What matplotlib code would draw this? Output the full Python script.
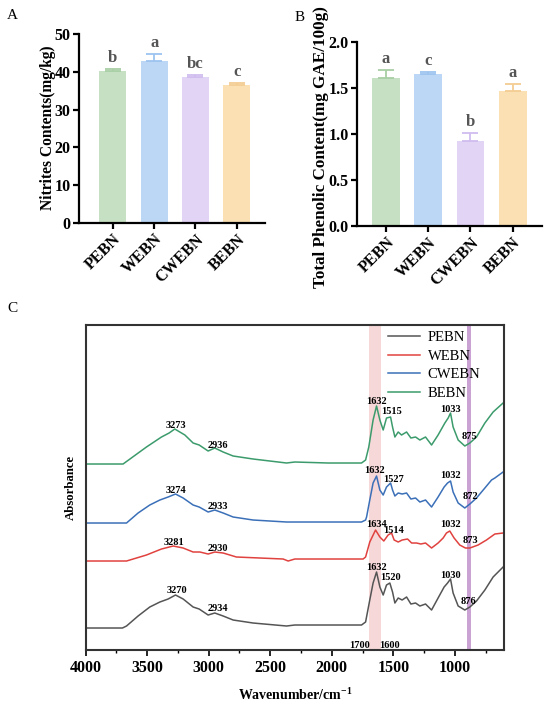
import matplotlib
matplotlib.use("Agg")
import matplotlib.pyplot as plt
from matplotlib.ticker import MultipleLocator

plt.rcParams['font.family'] = ['Liberation Serif', 'DejaVu Serif']
plt.rcParams['mathtext.default'] = 'regular'

# ---- panel A / B data
groups = ["PEBN", "WEBN", "CWEBN", "BEBN"]
nitrite = [40.1, 42.9, 38.5, 36.6]
nitrite_err = [0.6, 1.8, 0.7, 0.5]
nitrite_sig = ["b", "a", "bc", "c"]
phenolic = [1.61, 1.65, 0.93, 1.47]
phenolic_err = [0.09, 0.03, 0.08, 0.08]
phenolic_sig = ["a", "c", "b", "a"]

bar_colors = ["#c6e0c4", "#bbd7f5", "#e2d4f5", "#fae0b2"]
err_colors = ["#a8cfa5", "#9cc4ef", "#d0bcef", "#f3cd92"]

# ---- panel C data (wavenumber, absorbance incl. stacking offset)
wn_pebn = [4000, 3700, 3667, 3573, 3478, 3396, 3329, 3269, 3207, 3126, 3077, 3004, 2950, 2882, 2801, 2639,
           2367, 2300, 2000, 1758, 1725, 1691, 1664, 1636, 1609, 1582, 1555, 1528, 1506, 1487, 1460, 1428,
           1392, 1357, 1319, 1284, 1238, 1189, 1136, 1087, 1059, 1035, 1014, 973, 919, 878, 824, 756, 689, 608]
ab_pebn = [0.22, 0.22, 0.24, 0.34, 0.43, 0.48, 0.51, 0.55, 0.51, 0.43, 0.41, 0.35, 0.37, 0.34, 0.30, 0.27,
           0.24, 0.25, 0.25, 0.25, 0.28, 0.50, 0.67, 0.78, 0.63, 0.55, 0.65, 0.67, 0.58, 0.47, 0.52, 0.50,
           0.53, 0.46, 0.47, 0.44, 0.46, 0.40, 0.52, 0.63, 0.67, 0.71, 0.57, 0.44, 0.40, 0.43, 0.49, 0.60, 0.73, 0.83]

wn_webn = [4000, 3667, 3640, 3505, 3383, 3288, 3207, 3126, 3071, 3004, 2950, 2882, 2774, 2584, 2395, 2354,
           2300, 2000, 1745, 1725, 1691, 1644, 1609, 1577, 1542, 1514, 1493, 1460, 1428, 1384, 1351, 1311,
           1276, 1238, 1189, 1136, 1095, 1068, 1041, 1006, 960, 914, 878, 811, 743, 675, 608]
ab_webn = [0.89, 0.89, 0.90, 0.95, 1.01, 1.04, 1.02, 0.98, 0.98, 0.96, 0.98, 0.97, 0.93, 0.92, 0.91, 0.89,
           0.91, 0.91, 0.91, 0.93, 1.08, 1.20, 1.13, 1.09, 1.15, 1.17, 1.10, 1.08, 1.10, 1.11, 1.07, 1.07,
           1.06, 1.07, 1.02, 1.07, 1.12, 1.17, 1.19, 1.12, 1.05, 1.02, 1.02, 1.05, 1.10, 1.16, 1.17]

wn_cwebn = [4000, 3700, 3667, 3573, 3478, 3396, 3329, 3269, 3207, 3126, 3077, 3004, 2950, 2882, 2801, 2639,
            2367, 2300, 2000, 1758, 1725, 1717, 1691, 1664, 1636, 1609, 1582, 1555, 1522, 1506, 1487, 1460,
            1428, 1392, 1357, 1319, 1284, 1238, 1189, 1136, 1087, 1059, 1035, 1014, 973, 919, 878, 824, 756,
            702, 675, 608]
ab_cwebn = [1.27, 1.27, 1.27, 1.37, 1.45, 1.50, 1.53, 1.56, 1.52, 1.45, 1.43, 1.38, 1.40, 1.37, 1.33, 1.30,
            1.28, 1.28, 1.28, 1.28, 1.30, 1.33, 1.50, 1.67, 1.74, 1.60, 1.55, 1.63, 1.67, 1.60, 1.54, 1.57,
            1.56, 1.57, 1.51, 1.52, 1.48, 1.50, 1.43, 1.53, 1.63, 1.67, 1.69, 1.58, 1.47, 1.42, 1.46, 1.52, 1.62,
            1.70, 1.72, 1.78]

wn_bebn = [4000, 3695, 3505, 3383, 3321, 3275, 3193, 3126, 3077, 3004, 2950, 2882, 2801, 2639, 2367, 2300,
           2029, 1758, 1725, 1699, 1664, 1636, 1609, 1582, 1555, 1522, 1506, 1487, 1460, 1433, 1392, 1357,
           1319, 1284, 1238, 1189, 1136, 1081, 1054, 1035, 1014, 973, 919, 878, 824, 756, 689, 608]
ab_bebn = [1.86, 1.86, 2.03, 2.13, 2.17, 2.21, 2.15, 2.07, 2.05, 1.99, 2.02, 1.98, 1.94, 1.91, 1.87, 1.88,
           1.87, 1.87, 1.90, 2.03, 2.30, 2.44, 2.30, 2.20, 2.32, 2.33, 2.23, 2.13, 2.18, 2.15, 2.18, 2.12,
           2.13, 2.10, 2.13, 2.05, 2.15, 2.27, 2.32, 2.37, 2.23, 2.10, 2.04, 2.07, 2.13, 2.27, 2.38, 2.47]

# peak labels: (text, wavenumber, y)
peaks_pebn = [("3270", 3261, 0.60), ("2934", 2923, 0.42), ("1632", 1636, 0.83), ("1520", 1520, 0.73),
              ("1030", 1035, 0.75), ("876", 886, 0.49)]
peaks_webn = [("3281", 3280, 1.08), ("2930", 2923, 1.02), ("1634", 1636, 1.26), ("1514", 1496, 1.20),
              ("1032", 1035, 1.26), ("873", 873, 1.10)]
peaks_cwebn = [("3274", 3261, 1.60), ("2933", 2923, 1.44), ("1632", 1650, 1.80), ("1527", 1501, 1.71),
               ("1032", 1035, 1.75), ("872", 873, 1.54)]
peaks_bebn = [("3273", 3269, 2.25), ("2936", 2923, 2.05), ("1632", 1636, 2.49), ("1515", 1514, 2.39),
              ("1033", 1035, 2.41), ("875", 878, 2.14)]

line_colors = {"PEBN": "#555555", "WEBN": "#e0423f", "CWEBN": "#3b70b8", "BEBN": "#3c9b6c"}

fig = plt.figure(figsize=(5.5, 7.09), dpi=100)


def bar_panel(ax, vals, errs, sig, ylim, step, ylabel, ylabel_size, label_xy, xlim):
    x = range(len(groups))
    ax.bar(x, vals, width=0.66, color=bar_colors, zorder=2)
    for i in x:
        ax.errorbar(i, vals[i], yerr=[[0], [errs[i]]], color=err_colors[i], capsize=5.5,
                    elinewidth=1.3, capthick=1.3, zorder=3)
        ax.annotate(sig[i], (i, vals[i] + errs[i]), xytext=(0, 2), textcoords="offset points",
                    ha="center", va="bottom", fontsize=12, fontweight="bold", color="#555555")
    ax.set_ylim(*ylim)
    ax.set_xlim(*xlim)
    ax.yaxis.set_major_locator(MultipleLocator(step))
    ax.set_xticks(list(x))
    ax.set_xticklabels(groups, rotation=45, ha="right", rotation_mode="anchor")
    ax.set_ylabel(ylabel, fontsize=ylabel_size, fontweight="bold")
    ax.yaxis.set_label_coords(*label_xy)
    for s in ["top", "right"]:
        ax.spines[s].set_visible(False)
    for s in ["left", "bottom"]:
        ax.spines[s].set_linewidth(1.6)
    ax.tick_params(direction="out", width=1.6, length=4, labelsize=11.5, pad=2)
    for lab in ax.get_xticklabels() + ax.get_yticklabels():
        lab.set_fontweight("bold")


axA = fig.add_axes([0.1436, 0.6855, 0.338, 0.2666])
bar_panel(axA, nitrite, nitrite_err, nitrite_sig, (0, 50), 10, "Nitrites Contents(mg/kg)", 11.2,
          (-0.125, 0.505), (-0.82, 3.68))
axB = fig.add_axes([0.649, 0.681, 0.336, 0.2595])
bar_panel(axB, phenolic, phenolic_err, phenolic_sig, (0, 2.0), 0.5,
          "Total Phenolic Content(mg GAE/100g)", 12.3, (-0.15, 0.43), (-0.69, 3.69))
axB.yaxis.set_major_formatter(matplotlib.ticker.FormatStrFormatter("%.1f"))

# ---- panel C
axC = fig.add_axes([0.1555, 0.0832, 0.761, 0.4584])
axC.axvspan(1700, 1600, color="#f6d8d8", lw=0, zorder=0)
axC.axvspan(905, 865, color="#caa3d4", lw=0, zorder=0)
series = [("PEBN", wn_pebn, ab_pebn, peaks_pebn), ("WEBN", wn_webn, ab_webn, peaks_webn),
          ("CWEBN", wn_cwebn, ab_cwebn, peaks_cwebn), ("BEBN", wn_bebn, ab_bebn, peaks_bebn)]
for name, wn, ab, pk in series:
    axC.plot(wn, ab, color=line_colors[name], lw=1.1, label=name, zorder=2)
    for txt, w, y in pk:
        axC.text(w, y, txt, fontsize=7.5, fontweight="bold", ha="center", va="center", zorder=3)
axC.text(1772, 0.05, "1700", fontsize=7.5, fontweight="bold", ha="center", va="center")
axC.text(1528, 0.05, "1600", fontsize=7.5, fontweight="bold", ha="center", va="center")
axC.set_xlim(4000, 600)
axC.set_ylim(0, 3.25)
axC.set_yticks([])
axC.xaxis.set_major_locator(MultipleLocator(500))
axC.xaxis.set_minor_locator(MultipleLocator(250))
axC.tick_params(axis="x", which="major", direction="out", length=4, width=1.2, labelsize=11.5, pad=3)
axC.tick_params(axis="x", which="minor", direction="out", length=2.5, width=1.0)
for lab in axC.get_xticklabels():
    lab.set_fontweight("bold")
for s in axC.spines.values():
    s.set_linewidth(1.5)
    s.set_color("#333333")
axC.set_xlabel("Wavenumber/cm$^{-1}$", fontsize=10, fontweight="bold", labelpad=8)
axC.set_ylabel("Absorbance", fontsize=9.2, fontweight="bold", labelpad=6)
axC.legend(loc="upper left", bbox_to_anchor=(0.715, 0.99), frameon=False, fontsize=10.5,
           handlelength=2.2, handletextpad=0.55, labelspacing=0.36, borderpad=0.2, borderaxespad=0)

fig.text(0.012, 0.978, "A", fontsize=11, va="center")
fig.text(0.535, 0.976, "B", fontsize=11, va="center")
fig.text(0.014, 0.565, "C", fontsize=11, va="center")

fig.savefig("out.png", dpi=100)
